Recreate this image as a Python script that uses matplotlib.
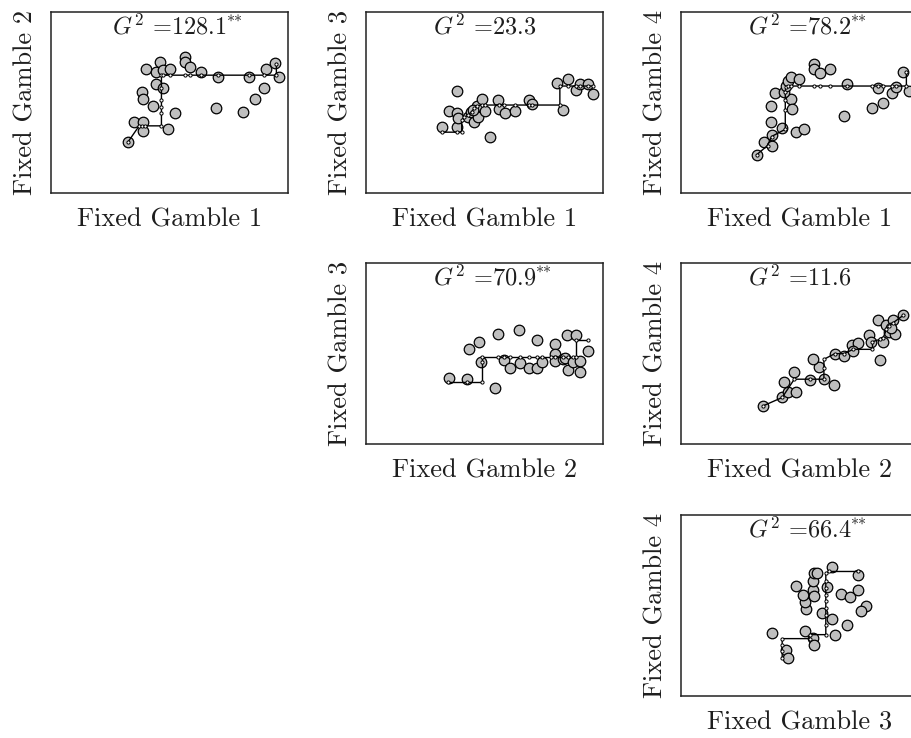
import matplotlib
matplotlib.use("Agg")
from matplotlib import pyplot as plt

plt.rcParams['font.family'] = ['cmr10', 'DejaVu Serif']
plt.rcParams['mathtext.fontset'] = 'cm'
plt.rcParams['axes.formatter.use_mathtext'] = True
plt.rcParams['axes.unicode_minus'] = False

# gamble 1 vs gamble 2
x12 = [32.6, 35.1, 38.9, 38.9, 49.2, 43.1, 52.5, 38.6, 38.9, 44.2, 47.1, 39.9, 44.5, 45.9, 47.3,
       50.4, 56.5, 56.5, 58.8, 63.5, 70.5, 69.5, 81.0, 83.6, 86.0, 89.9, 90.9, 94.4, 96.2]
y12 = [28.4, 39.4, 39.1, 34.3, 35.2, 48.1, 44.0, 55.6, 52.1, 60.0, 57.8, 68.3, 66.6, 72.5, 67.9,
       68.3, 74.9, 72.5, 69.4, 66.6, 63.9, 46.8, 45.0, 63.9, 51.9, 57.8, 68.3, 71.6, 63.9]
fitx12 = [32.6, 37.2, 38.6, 39.6, 46.6, 46.6, 46.6, 46.6, 46.6, 46.6, 47.3, 50.4, 56.5, 58.8,
          63.5, 70.5, 83.6, 89.9, 95.1, 95.1]
fity12 = [28.4, 37.1, 37.1, 37.1, 37.1, 44.0, 47.7, 51.4, 57.8, 65.1, 65.1, 65.1, 65.1, 65.1,
          65.1, 65.1, 65.1, 65.1, 65.1, 71.2]

# gamble 1 vs gamble 3
x13 = [32.2, 38.5, 38.5, 35.0, 38.5, 38.7, 42.9, 44.3, 45.7, 46.9, 47.1, 48.8, 50.2, 52.3, 55.9,
       56.2, 58.6, 62.8, 68.8, 70.2, 80.7, 83.2, 85.2, 88.8, 90.2, 93.6, 95.7, 45.0]
y13 = [36.7, 36.3, 56.5, 45.5, 44.4, 41.3, 42.2, 45.0, 39.4, 48.1, 41.8, 51.7, 45.5, 30.8, 51.4,
       46.2, 44.4, 45.3, 51.4, 49.2, 60.9, 45.9, 62.9, 56.9, 60.2, 60.2, 54.7, 45.9]
fitx13 = [32.2, 38.5, 40.4, 40.4, 41.5, 43.2, 44.6, 45.7, 46.9, 48.8, 50.2, 56.2, 58.3, 62.8,
          68.8, 70.2, 81.8, 81.8, 85.2, 88.8, 90.2, 93.6, 95.8]
fity13 = [33.6, 33.6, 33.6, 40.4, 41.8, 43.1, 45.0, 46.8, 48.1, 48.6, 48.6, 48.6, 48.6, 48.6,
          48.6, 48.6, 48.6, 59.1, 59.1, 59.1, 59.1, 59.1, 59.1]

# gamble 1 vs gamble 4
x14 = [31.9, 35.0, 38.2, 38.2, 42.7, 37.8, 48.7, 52.0, 37.9, 39.6, 46.6, 46.9, 43.5, 44.5, 45.2,
       46.6, 49.9, 56.0, 56.0, 58.6, 62.8, 70.2, 68.8, 80.8, 85.3, 83.1, 89.2, 90.6, 93.7, 96.2]
y14 = [21.1, 28.4, 25.7, 32.1, 36.1, 39.4, 33.9, 35.2, 48.1, 55.4, 51.7, 46.2, 56.0, 59.1, 61.8,
       63.9, 62.9, 71.2, 68.3, 66.1, 68.3, 60.0, 42.6, 47.2, 49.9, 57.8, 55.0, 58.7, 66.6, 56.5]
fitx14 = [31.9, 36.5, 38.2, 44.0, 44.0, 44.0, 44.0, 44.2, 45.2, 46.6, 49.9, 56.0, 58.6, 62.8,
          70.2, 80.8, 83.1, 85.3, 89.2, 90.6, 95.1, 95.1]
fity14 = [21.1, 26.2, 31.2, 35.2, 45.9, 51.4, 56.0, 58.3, 59.1, 59.1, 59.1, 59.1, 59.1, 59.1,
          59.1, 59.1, 59.1, 59.1, 59.1, 59.1, 59.1, 66.6]

# gamble 2 vs gamble 3
x23 = [35.0, 42.7, 54.5, 48.5, 43.6, 47.6, 55.5, 64.6, 72.3, 58.3, 60.8, 65.0, 68.8, 72.3, 74.4,
       79.6, 79.6, 79.6, 83.2, 83.9, 84.9, 88.7, 85.2, 87.4, 90.2, 90.5, 93.7]
y23 = [36.7, 36.1, 30.8, 45.5, 52.3, 56.5, 60.6, 62.9, 57.2, 46.2, 41.8, 44.6, 42.2, 41.8, 45.5,
       55.0, 49.5, 45.9, 46.8, 47.7, 60.0, 60.0, 40.9, 45.5, 40.0, 45.9, 51.4]
fitx23 = [34.5, 42.7, 48.8, 48.8, 48.8, 55.5, 58.3, 60.8, 65.0, 68.8, 72.3, 74.4, 77.9, 79.6,
          83.2, 85.2, 87.4, 88.7, 88.7, 93.7]
fity23 = [34.3, 34.3, 34.3, 45.5, 48.1, 48.1, 48.1, 48.1, 48.1, 48.1, 48.1, 48.1, 48.1, 48.1,
          48.1, 48.1, 48.1, 48.1, 57.2, 57.2]

# gamble 2 vs gamble 4
x24 = [34.7, 42.7, 45.2, 48.7, 43.5, 47.8, 54.4, 60.3, 64.6, 58.3, 55.8, 64.9, 68.8, 72.2, 74.7,
       72.6, 79.4, 80.1, 83.8, 83.1, 85.3, 86.4, 87.8, 90.2, 89.5, 93.7, 88.5]
y24 = [21.1, 25.7, 29.0, 29.0, 34.3, 39.8, 35.4, 35.8, 32.5, 42.6, 47.2, 49.9, 48.6, 54.7, 56.0,
       51.4, 60.2, 56.5, 46.2, 68.4, 56.3, 65.5, 62.0, 60.9, 68.3, 71.0, 63.9]
fitx24 = [34.7, 42.7, 47.8, 54.4, 60.3, 60.3, 60.3, 64.9, 68.8, 72.6, 80.8, 80.8, 83.8, 85.3,
          86.7, 87.8, 89.5, 93.7]
fity24 = [21.1, 25.7, 35.8, 35.8, 35.8, 42.2, 46.8, 49.9, 49.9, 52.3, 52.3, 56.5, 57.8, 58.7,
          63.3, 65.1, 67.0, 71.0]

# gamble 3 vs gamble 4
x34 = [38.2, 44.5, 45.2, 52.2, 55.8, 56.2, 64.9, 70.2, 63.9, 59.3, 52.9, 52.2, 51.3, 48.7, 55.8,
       56.2, 55.8, 56.2, 57.2, 61.8, 63.9, 67.7, 71.2, 74.7, 74.7, 78.2, 75.8]
y34 = [34.9, 25.3, 21.1, 35.8, 32.1, 28.1, 33.9, 39.4, 42.6, 45.9, 48.3, 51.9, 55.6, 60.6, 58.7,
       55.0, 63.7, 67.9, 67.9, 60.0, 71.0, 56.3, 54.5, 58.7, 66.6, 49.5, 46.8]
fitx34 = [42.7, 42.7, 42.7, 42.7, 54.4, 54.4, 61.1, 61.1, 61.1, 61.1, 61.1, 61.1, 61.1, 61.1,
          61.1, 62.4, 74.7]
fity34 = [21.1, 25.1, 28.4, 31.7, 31.7, 33.9, 33.9, 39.4, 45.0, 48.6, 52.3, 56.0, 59.6, 63.3,
          67.9, 68.8, 68.8]

g2_stats = ["128.1", "23.3", "78.2", "70.9", "11.6", "66.4"]
significant = [True, False, True, True, False, True]
pairs = [(1, 2), (1, 3), (1, 4), (2, 3), (2, 4), (3, 4)]
panel_data = [(x12, y12, fitx12, fity12), (x13, y13, fitx13, fity13), (x14, y14, fitx14, fity14),
              (x23, y23, fitx23, fity23), (x24, y24, fitx24, fity24), (x34, y34, fitx34, fity34)]

W, H = 912, 738
col_left = [51, 366, 681]
row_top = [12, 263, 515]
ax_w, ax_h = 237, 181
txt_color = '#1e1e1e'

fig = plt.figure(figsize=(W / 100, H / 100), dpi=100)

for k, (gx, gy) in enumerate(pairs):
    row, col = gx - 1, gy - 2
    left = col_left[col] / W
    bottom = (H - row_top[row] - ax_h) / H
    ax = fig.add_axes([left, bottom, ax_w / W, ax_h / H])
    xs, ys, fx, fy = panel_data[k]

    ax.plot(xs, ys, 'o', ms=7.6, mfc='#bfbfbf', mec='black', mew=0.9, ls='none', zorder=2)
    ax.plot(fx, fy, '-', color='black', lw=1.0, marker='o', ms=2.3, mfc='white', mec='black',
            mew=0.7, zorder=3)

    ax.set_xlim(0, 100)
    ax.set_ylim(0, 100)
    ax.set_xticks([])
    ax.set_yticks([])
    for sp in ax.spines.values():
        sp.set_linewidth(1.1)
        sp.set_color('#222222')

    ax.set_xlabel("Fixed Gamble {}".format(gx), fontsize=19, labelpad=10.5, color=txt_color)
    ax.set_ylabel("Fixed Gamble {}".format(gy), fontsize=19, labelpad=10, color=txt_color)

    t = ax.text(0.5, 0.99, r"$G^2$ =" + g2_stats[k], transform=ax.transAxes, ha='center',
                va='top', fontsize=17.5, color=txt_color)
    if significant[k]:
        ax.annotate("**", xy=(1, 1), xycoords=t, xytext=(0, -2.5), textcoords='offset points',
                    ha='left', va='top', fontsize=11.5, color=txt_color)

fig.savefig("out.png", dpi=100)
